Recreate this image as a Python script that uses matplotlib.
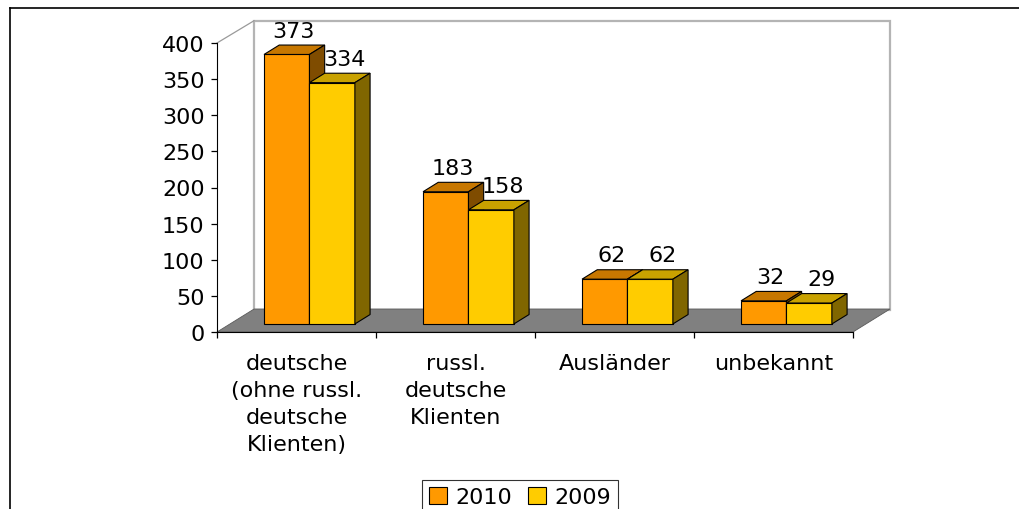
import matplotlib
matplotlib.use("Agg")
import matplotlib.pyplot as plt
from matplotlib.patches import Polygon, Rectangle
from matplotlib.lines import Line2D

# the original text is a wide arial, dejavu comes closest in size
plt.rcParams['font.family'] = ['DejaVu Sans']
FS = 16

# data
categories = ["deutsche\n(ohne russl.\ndeutsche\nKlienten)",
              "russl.\ndeutsche\nKlienten",
              "Ausländer",
              "unbekannt"]
series_names = ["2010", "2009"]
values_2010 = [373, 183, 62, 32]
values_2009 = [334, 158, 62, 29]
y_ticks = [0, 50, 100, 150, 200, 250, 300, 350, 400]

# colours: front, top, side
colors_2010 = ("#FF9900", "#C77700", "#7F4C00")
colors_2009 = ("#FFCC00", "#C9A200", "#806600")

# pseudo 3d geometry (depth in data units)
DX = 0.233
DY = 31.8
F0, F1 = 0.35, 0.76
BAR_W = 1 / 3.5   # gap width 150%

fig = plt.figure(figsize=(10.19, 5.10), dpi=100)
ax = fig.add_axes([217 / 1019, 1 - 333 / 510, 636 / 1019, 289 / 510])
ax.set_xlim(0, len(categories))
ax.set_ylim(0, y_ticks[-1])
ax.patch.set_visible(False)

ncat = len(categories)
ymax = y_ticks[-1]

# back wall, floor, side wall edges
ax.add_patch(Rectangle((DX, DY * 0.97), ncat, ymax, facecolor="white",
                       edgecolor="#B4B4B4", lw=1.6, clip_on=False, zorder=0))
ax.add_patch(Polygon([(0, 0), (ncat, 0), (ncat + DX, DY), (DX, DY)],
                     closed=True, facecolor="#808080", edgecolor="#5A5A5A",
                     lw=0.6, clip_on=False, zorder=1))
ax.plot([0, DX], [ymax, ymax + DY * 0.97], color="#9A9A9A", lw=0.9,
        clip_on=False, zorder=1)


def draw_bar(x0, v, cols):
    x1 = x0 + BAR_W
    front = [(x0 + F0 * DX, F0 * DY), (x1 + F0 * DX, F0 * DY),
             (x1 + F0 * DX, v + F0 * DY), (x0 + F0 * DX, v + F0 * DY)]
    top = [(x0 + F0 * DX, v + F0 * DY), (x1 + F0 * DX, v + F0 * DY),
           (x1 + F1 * DX, v + F1 * DY), (x0 + F1 * DX, v + F1 * DY)]
    side = [(x1 + F0 * DX, F0 * DY), (x1 + F1 * DX, F1 * DY),
            (x1 + F1 * DX, v + F1 * DY), (x1 + F0 * DX, v + F0 * DY)]
    for pts, c in zip((front, top, side), cols):
        ax.add_patch(Polygon(pts, closed=True, facecolor=c, edgecolor="black",
                             lw=0.8, clip_on=False, zorder=3))


for i in range(ncat):
    left = i + 0.5 - BAR_W
    draw_bar(left, values_2010[i], colors_2010)
    draw_bar(left + BAR_W, values_2009[i], colors_2009)
    ax.annotate(str(values_2010[i]), (left + BAR_W / 2, values_2010[i]),
                xytext=(20, 32), textcoords="offset pixels",
                ha="center", va="center", fontsize=FS, zorder=5)
    ax.annotate(str(values_2009[i]), (left + 1.5 * BAR_W, values_2009[i]),
                xytext=(25, 32), textcoords="offset pixels",
                ha="center", va="center", fontsize=FS, zorder=5)
    ax.annotate(categories[i], (i + 0.5, 0), xytext=(0, -21),
                textcoords="offset pixels", ha="center", va="top",
                fontsize=FS, linespacing=1.44)

# axes
for s in ("top", "right"):
    ax.spines[s].set_visible(False)
ax.spines["left"].set_bounds(0, ymax)
ax.spines["bottom"].set_bounds(0, ncat)
ax.spines["left"].set_zorder(4)
ax.spines["bottom"].set_zorder(4)
ax.set_yticks(y_ticks)
ax.set_xticks(range(ncat + 1))
ax.set_xticklabels([])
ax.tick_params(axis="y", length=4, width=0.9, pad=5, labelsize=FS)
ax.tick_params(axis="x", length=4, width=0.9)

# legend
handles = [Rectangle((0, 0), 1, 1, facecolor=colors_2010[0], edgecolor="black", lw=0.8),
           Rectangle((0, 0), 1, 1, facecolor=colors_2009[0], edgecolor="black", lw=0.8)]
leg = fig.legend(handles, series_names, loc="upper center",
                 bbox_to_anchor=(520 / 1019, 1 - 481 / 510), ncol=2,
                 fontsize=FS, frameon=True, fancybox=False,
                 handlelength=0.8, handleheight=0.8, handletextpad=0.4,
                 columnspacing=0.7, borderpad=0.3, borderaxespad=0)
leg.get_frame().set_edgecolor("black")
leg.get_frame().set_linewidth(0.8)

# chart border
fig.add_artist(Line2D([10 / 1019, 10 / 1019], [0, 1 - 9 / 510],
                      transform=fig.transFigure, color="black", lw=1.2))
fig.add_artist(Line2D([10 / 1019, 1], [1 - 9 / 510, 1 - 9 / 510],
                      transform=fig.transFigure, color="black", lw=1.2))

fig.savefig("out.png", dpi=100)
